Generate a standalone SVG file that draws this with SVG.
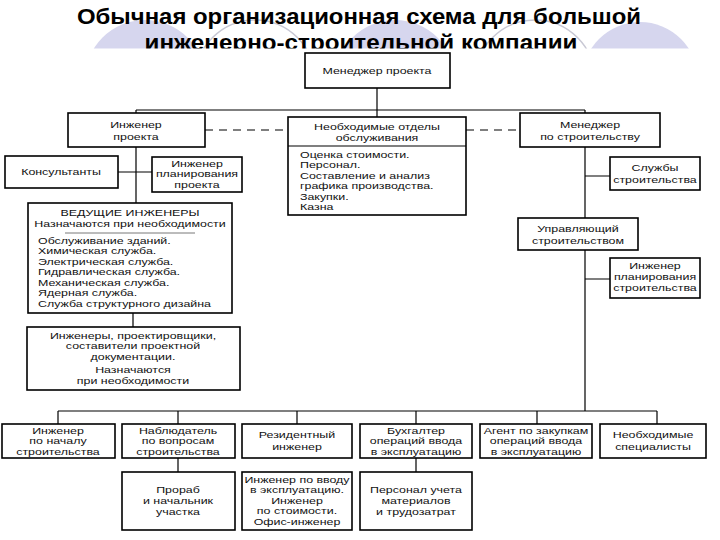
<svg xmlns="http://www.w3.org/2000/svg" width="720" height="540" viewBox="0 0 720 540">
<style>
.box{fill:#fff;stroke:#000;stroke-width:1.6}
.ln{fill:none;stroke:#000;stroke-width:1.2}
.dash{fill:none;stroke:#000;stroke-width:1.2;stroke-dasharray:8 6}
text{font-family:"Liberation Sans",Arial,sans-serif;font-size:9.2px;fill:#111}
.c{text-anchor:middle}
.title{font-family:"Liberation Sans",Arial,sans-serif;font-weight:bold;font-size:22px;fill:#000;text-anchor:middle}
.circ{fill:#d6d6ee}
.arc{fill:none;stroke:#c8c8d4;stroke-width:1.5}
</style>
<rect x="0" y="0" width="720" height="540" fill="#fff"/>
<g id="decor">
<circle class="circ" cx="145" cy="80" r="60"/>
<circle class="arc" cx="255" cy="80" r="60"/>
<circle class="circ" cx="395" cy="80" r="60"/>
<circle class="arc" cx="535" cy="80" r="60"/>
<circle class="circ" cx="640" cy="80" r="58"/>
</g>
<g id="title">
<text class="title" x="359" y="24" textLength="564" lengthAdjust="spacingAndGlyphs">Обычная организационная схема для большой</text>
<text class="title" x="361" y="50" textLength="433" lengthAdjust="spacingAndGlyphs">инженерно-строительной компании</text>
</g>
<rect x="0" y="48.5" width="720" height="492" fill="#fff"/>
<g id="connectors">
<path class="ln" d="M377 88V110M136 110H585M136 110V203M377 110V117M585 110V411M118 172H152M133 313V327M585 176H610M585 279H610"/>
<path class="dash" d="M205 130H288M466 130H520"/>
<path class="ln" d="M58 411H657M58 411V424M178 411V424M297 411V424M416 411V424M537 411V424M657 411V424M178 458V472M416 458V472"/>
</g>
<g id="n_pm"><rect class="box" x="305" y="53" width="145" height="35"/>
<g transform="matrix(1.35 0 0 1 -131.95 0)"><text class="c" x="377" y="74">Менеджер проекта</text></g></g>
<g id="n_pe"><rect class="box" x="68" y="113" width="137" height="34"/>
<g transform="matrix(1.35 0 0 1 -47.6 0)"><text class="c" x="136" y="128">Инженер</text><text class="c" x="136" y="140">проекта</text></g></g>
<g id="n_dept"><rect class="box" x="288" y="117" width="178" height="98"/><line class="ln" x1="288" y1="146" x2="466" y2="146"/>
<g transform="matrix(1.35 0 0 1 -131.95 0)"><text class="c" x="377" y="130">Необходимые отделы</text><text class="c" x="377" y="141">обслуживания</text></g>
<g transform="matrix(1.35 0 0 1 -105 0)"><text x="300" y="158">Оценка стоимости.</text><text x="300" y="168.5">Персонал.</text><text x="300" y="179">Составление и анализ</text><text x="300" y="189.5">графика производства.</text><text x="300" y="200">Закупки.</text><text x="300" y="210.5">Казна</text></g></g>
<g id="n_cm"><rect class="box" x="520" y="113" width="140" height="34"/>
<g transform="matrix(1.35 0 0 1 -206.5 0)"><text class="c" x="590" y="128">Менеджер</text><text class="c" x="590" y="140">по строительству</text></g></g>
<g id="n_cons"><rect class="box" x="5" y="156" width="113" height="32"/>
<g transform="matrix(1.35 0 0 1 -21.35 0)"><text class="c" x="61" y="175">Консультанты</text></g></g>
<g id="n_pp"><rect class="box" x="152" y="157" width="90" height="35"/>
<g transform="matrix(1.35 0 0 1 -68.95 0)"><text class="c" x="197" y="167">Инженер</text><text class="c" x="197" y="177.5">планирования</text><text class="c" x="197" y="188">проекта</text></g></g>
<g id="n_cs"><rect class="box" x="610" y="157" width="90" height="33"/>
<g transform="matrix(1.35 0 0 1 -229.25 0)"><text class="c" x="655" y="171">Службы</text><text class="c" x="655" y="183">строительства</text></g></g>
<g id="n_lead"><rect class="box" x="28" y="203" width="204" height="110"/>
<g transform="matrix(1.35 0 0 1 -45.5 0)"><text class="c" x="130" y="216">ВЕДУЩИЕ ИНЖЕНЕРЫ</text><text class="c" x="130" y="227">Назначаются при необходимости</text></g>
<line x1="65" y1="233" x2="195" y2="233" stroke="#555" stroke-width="0.8"/>
<g transform="matrix(1.35 0 0 1 -13.3 0)"><text x="38" y="244">Обслуживание зданий.</text><text x="38" y="254.5">Химическая служба.</text><text x="38" y="265">Электрическая служба.</text><text x="38" y="275.5">Гидравлическая служба.</text><text x="38" y="286">Механическая служба.</text><text x="38" y="296.5">Ядерная служба.</text><text x="38" y="307">Служба структурного дизайна</text></g></g>
<g id="n_cmgr"><rect class="box" x="518" y="218" width="120" height="32"/>
<g transform="matrix(1.35 0 0 1 -202.3 0)"><text class="c" x="578" y="232">Управляющий</text><text class="c" x="578" y="244">строительством</text></g></g>
<g id="n_cplan"><rect class="box" x="610" y="258" width="90" height="40"/>
<g transform="matrix(1.35 0 0 1 -229.25 0)"><text class="c" x="655" y="269">Инженер</text><text class="c" x="655" y="280">планирования</text><text class="c" x="655" y="291">строительства</text></g></g>
<g id="n_eng"><rect class="box" x="27" y="327" width="213" height="63"/>
<g transform="matrix(1.35 0 0 1 -46.55 0)"><text class="c" x="133" y="339">Инженеры, проектировщики,</text><text class="c" x="133" y="349.5">составители проектной</text><text class="c" x="133" y="360">документации.</text><text class="c" x="133" y="373">Назначаются</text><text class="c" x="133" y="384">при необходимости</text></g></g>
<g id="n_b1"><rect class="box" x="2" y="424" width="113" height="34"/>
<g transform="matrix(1.35 0 0 1 -20.3 0)"><text class="c" x="58" y="434">Инженер</text><text class="c" x="58" y="444.5">по началу</text><text class="c" x="58" y="455">строительства</text></g></g>
<g id="n_b2"><rect class="box" x="122" y="424" width="113" height="34"/>
<g transform="matrix(1.35 0 0 1 -62.3 0)"><text class="c" x="178" y="434">Наблюдатель</text><text class="c" x="178" y="444.5">по вопросам</text><text class="c" x="178" y="455">строительства</text></g></g>
<g id="n_b3"><rect class="box" x="242" y="424" width="110" height="34"/>
<g transform="matrix(1.35 0 0 1 -103.95 0)"><text class="c" x="297" y="438">Резидентный</text><text class="c" x="297" y="450">инженер</text></g></g>
<g id="n_b4"><rect class="box" x="360" y="424" width="112" height="34"/>
<g transform="matrix(1.35 0 0 1 -145.6 0)"><text class="c" x="416" y="434">Бухгалтер</text><text class="c" x="416" y="444.5">операций ввода</text><text class="c" x="416" y="455">в эксплуатацию</text></g></g>
<g id="n_b5"><rect class="box" x="480" y="424" width="112" height="34"/>
<g transform="matrix(1.35 0 0 1 -187.6 0)"><text class="c" x="536" y="434">Агент по закупкам</text><text class="c" x="536" y="444.5">операций ввода</text><text class="c" x="536" y="455">в эксплуатацию</text></g></g>
<g id="n_b6"><rect class="box" x="600" y="424" width="106" height="34"/>
<g transform="matrix(1.35 0 0 1 -228.55 0)"><text class="c" x="653" y="438">Необходимые</text><text class="c" x="653" y="450">специалисты</text></g></g>
<g id="n_c1"><rect class="box" x="122" y="472" width="113" height="58"/>
<g transform="matrix(1.35 0 0 1 -62.3 0)"><text class="c" x="178" y="493">Прораб</text><text class="c" x="178" y="504">и начальник</text><text class="c" x="178" y="515">участка</text></g></g>
<g id="n_c2"><rect class="box" x="242" y="472" width="110" height="58"/>
<g transform="matrix(1.35 0 0 1 -103.95 0)"><text class="c" x="297" y="483">Инженер по вводу</text><text class="c" x="297" y="493.5">в эксплуатацию.</text><text class="c" x="297" y="504">Инженер</text><text class="c" x="297" y="514.5">по стоимости.</text><text class="c" x="297" y="525">Офис-инженер</text></g></g>
<g id="n_c3"><rect class="box" x="360" y="472" width="112" height="58"/>
<g transform="matrix(1.35 0 0 1 -145.6 0)"><text class="c" x="416" y="493">Персонал учета</text><text class="c" x="416" y="504">материалов</text><text class="c" x="416" y="515">и трудозатрат</text></g></g>
</svg>
